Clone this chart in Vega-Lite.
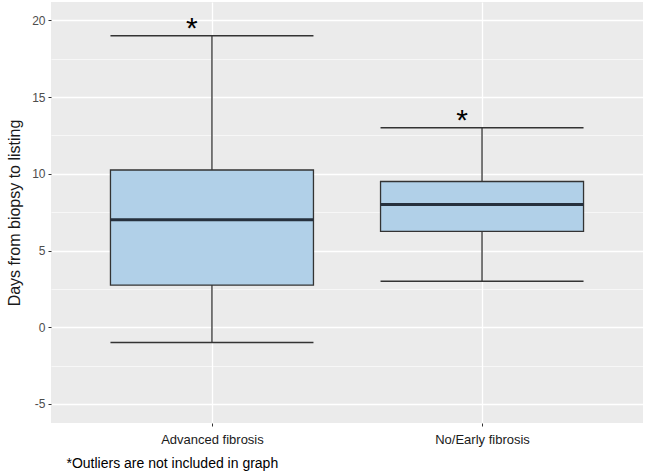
{
  "$schema": "https://vega.github.io/schema/vega-lite/v6.json",
  "width": 592,
  "height": 421,
  "autosize": "none",
  "padding": {"left": 51, "top": 2, "right": 5, "bottom": 52},
  "background": "white",
  "config": {
    "view": {"fill": "#ebebeb", "stroke": null},
    "font": "Liberation Sans"
  },
  "data": {
    "values": [
      {"group": "Advanced fibrosis", "lower": -1, "q1": 2.75, "median": 7, "q3": 10.25, "upper": 19},
      {"group": "No/Early fibrosis", "lower": 3, "q1": 6.25, "median": 8, "q3": 9.5, "upper": 13}
    ]
  },
  "resolve": {"axis": {"y": "independent"}},
  "layer": [
    {
      "mark": {"type": "rule", "color": "#333333", "strokeWidth": 1.3},
      "encoding": {
        "x": {
          "field": "group", "type": "nominal",
          "scale": {"type": "point", "padding": 0.596},
          "axis": {
            "title": "*Outliers are not included in graph",
            "titleX": 15, "titleY": 40, "titleAlign": "left", "titleAnchor": null,
            "titleBaseline": "middle", "titleFontSize": 14, "titleFontWeight": "normal",
            "titleColor": "#000000",
            "labelAngle": 0, "labelFontSize": 13, "labelColor": "#1a1a1a",
            "labelPadding": 7,
            "domain": false, "ticks": true, "tickSize": 3, "tickColor": "#333333", "tickWidth": 1,
            "grid": true, "gridColor": "#ffffff", "gridWidth": 1.3
          }
        },
        "y": {
          "field": "lower", "type": "quantitative",
          "scale": {"domain": [-6.24, 21.2], "nice": false, "zero": false},
          "axis": {
            "orient": "right",
            "values": [-2.5, 2.5, 7.5, 12.5, 17.5],
            "grid": true, "gridColor": "#ffffff", "gridWidth": 0.6,
            "labels": false, "ticks": false, "domain": false, "title": null
          }
        },
        "y2": {"field": "upper"}
      }
    },
    {
      "mark": {"type": "bar", "size": 203, "fill": "#b1d0e8", "stroke": "#333333", "strokeWidth": 1.3},
      "encoding": {
        "x": {"field": "group", "type": "nominal"},
        "y": {
          "field": "q1", "type": "quantitative",
          "axis": {
            "orient": "left",
            "title": "Days from biopsy to listing",
            "titleFontSize": 16, "titleFontWeight": "normal", "titleColor": "#1a1a1a",
            "titleX": -29,
            "values": [-5, 0, 5, 10, 15, 20],
            "labelExpr": "datum.value < 0 ? '-' + abs(datum.value) : datum.label",
            "labelFontSize": 12, "labelColor": "#4d4d4d", "labelPadding": 3,
            "domain": false, "ticks": true, "tickSize": 3, "tickColor": "#333333",
            "grid": true, "gridColor": "#ffffff", "gridWidth": 1.3
          }
        },
        "y2": {"field": "q3"}
      }
    },
    {
      "mark": {"type": "tick", "size": 203, "thickness": 3, "color": "#26303d", "opacity": 1},
      "encoding": {
        "x": {"field": "group", "type": "nominal"},
        "y": {"field": "median", "type": "quantitative", "axis": null}
      }
    },
    {
      "mark": {"type": "tick", "size": 203, "thickness": 1.5, "color": "#333333", "opacity": 1},
      "encoding": {
        "x": {"field": "group", "type": "nominal"},
        "y": {"field": "lower", "type": "quantitative", "axis": null}
      }
    },
    {
      "mark": {"type": "tick", "size": 203, "thickness": 1.5, "color": "#333333", "opacity": 1},
      "encoding": {
        "x": {"field": "group", "type": "nominal"},
        "y": {"field": "upper", "type": "quantitative", "axis": null}
      }
    },
    {
      "mark": {"type": "text", "text": "*", "fontSize": 30, "dx": -20, "dy": 2, "baseline": "alphabetic", "color": "#000000"},
      "encoding": {
        "x": {"field": "group", "type": "nominal"},
        "y": {"field": "upper", "type": "quantitative", "axis": null}
      }
    }
  ]
}
